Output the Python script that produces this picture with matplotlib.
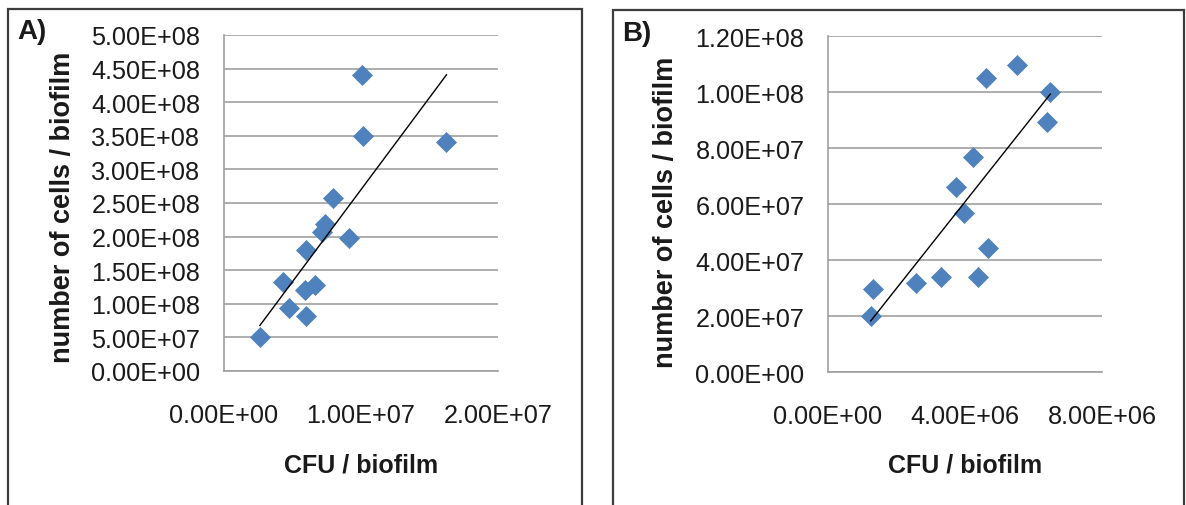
import numpy as np
import matplotlib
matplotlib.use("Agg")
import matplotlib.pyplot as plt
from matplotlib.patches import Rectangle
from matplotlib.ticker import FuncFormatter, MultipleLocator

plt.rcParams['font.family'] = ['Liberation Sans', 'DejaVu Sans']

# ---- data ----
a_cfu = [1.010e7, 1.013e7, 1.624e7, 7.95e6, 7.35e6, 7.13e6, 9.16e6,
         6.01e6, 4.32e6, 6.62e6, 5.89e6, 4.75e6, 6.01e6, 2.62e6]
a_cells = [4.40e8, 3.50e8, 3.41e8, 2.57e8, 2.19e8, 2.07e8, 1.98e8,
           1.805e8, 1.33e8, 1.28e8, 1.21e8, 9.33e7, 8.23e7, 5.0e7]

b_cfu = [1.25e6, 1.32e6, 2.56e6, 3.31e6, 4.37e6, 4.68e6, 3.98e6,
         3.74e6, 4.23e6, 4.60e6, 5.52e6, 6.49e6, 6.39e6]
b_cells = [2.02e7, 2.98e7, 3.18e7, 3.39e7, 3.39e7, 4.44e7, 5.69e7,
           6.61e7, 7.68e7, 1.05e8, 1.099e8, 1.00e8, 8.95e7]

panel_labels = ["A)", "B)"]
x_label = "CFU / biofilm"
y_label = "number of cells / biofilm"

W, H = 1186, 506
fig = plt.figure(figsize=(W / 100, H / 100), dpi=100)


def fx(px):
    return px / W


def fy(py):
    return (H - py) / H


grid_c = '#A0A0A0'
marker_c = '#4F81BD'
text_c = '#1a1a1a'
sci = FuncFormatter(lambda v, p: f"{v:.2E}")


def make_panel(left, top, right, bottom, xs, ys, xmax, xstep, ymax, ystep):
    ax = fig.add_axes([fx(left), fy(bottom), fx(right - left), (bottom - top) / H])
    ax.set_xlim(0, xmax)
    ax.set_ylim(0, ymax)
    ax.xaxis.set_major_locator(MultipleLocator(xstep))
    ax.yaxis.set_major_locator(MultipleLocator(ystep))
    ax.xaxis.set_major_formatter(sci)
    ax.yaxis.set_major_formatter(sci)
    ax.grid(axis='y', color=grid_c, lw=1.2)
    ax.set_axisbelow(True)
    for s in ['top', 'right']:
        ax.spines[s].set_visible(False)
    for s in ['left', 'bottom']:
        ax.spines[s].set_color(grid_c)
        ax.spines[s].set_linewidth(1.2)
    ax.tick_params(axis='both', length=0, labelsize=18.2, colors=text_c)
    ax.tick_params(axis='x', pad=23)
    ax.tick_params(axis='y', pad=17)
    ax.scatter(xs, ys, marker='D', s=115, color=marker_c, linewidths=0, zorder=3)
    xs_a = np.asarray(xs)
    k, b = np.polyfit(xs_a, np.asarray(ys), 1)
    xl = np.array([xs_a.min(), xs_a.max()])
    ax.plot(xl, k * xl + b, color='black', lw=1.0, zorder=4)
    return ax


axA = make_panel(224, 36, 498, 372, a_cfu, a_cells, 2e7, 1e7, 5e8, 5e7)
axB = make_panel(828, 37.3, 1102, 373.3, b_cfu, b_cells, 8e6, 4e6, 1.2e8, 2e7)

# outer boxes
for x0, x1, top in [(8.3, 581.7, 9.5), (612.7, 1184, 10.7)]:
    fig.add_artist(Rectangle((fx(x0), fy(560)), fx(x1 - x0), (560 - top) / H,
                             transform=fig.transFigure, fill=False,
                             ec='#3c3c3c', lw=1.6, clip_on=False))

# panel letters
fig.text(fx(17), fy(39.3), panel_labels[0], fontsize=20, fontweight='bold',
         ha='left', va='baseline', color=text_c)
fig.text(fx(621.7), fy(40.7), panel_labels[1], fontsize=20, fontweight='bold',
         ha='left', va='baseline', color=text_c)

# axis labels
for cx, cy in [(63.5, 207.5), (666, 212)]:
    fig.text(fx(cx), fy(cy), y_label, rotation=90, fontsize=19.5, fontweight='bold',
             ha='center', va='center', color=text_c)
for cx in [361, 965]:
    fig.text(fx(cx), fy(473), x_label, fontsize=18, fontweight='bold',
             ha='center', va='baseline', color=text_c)

fig.savefig('out.png', dpi=100, facecolor='white')
